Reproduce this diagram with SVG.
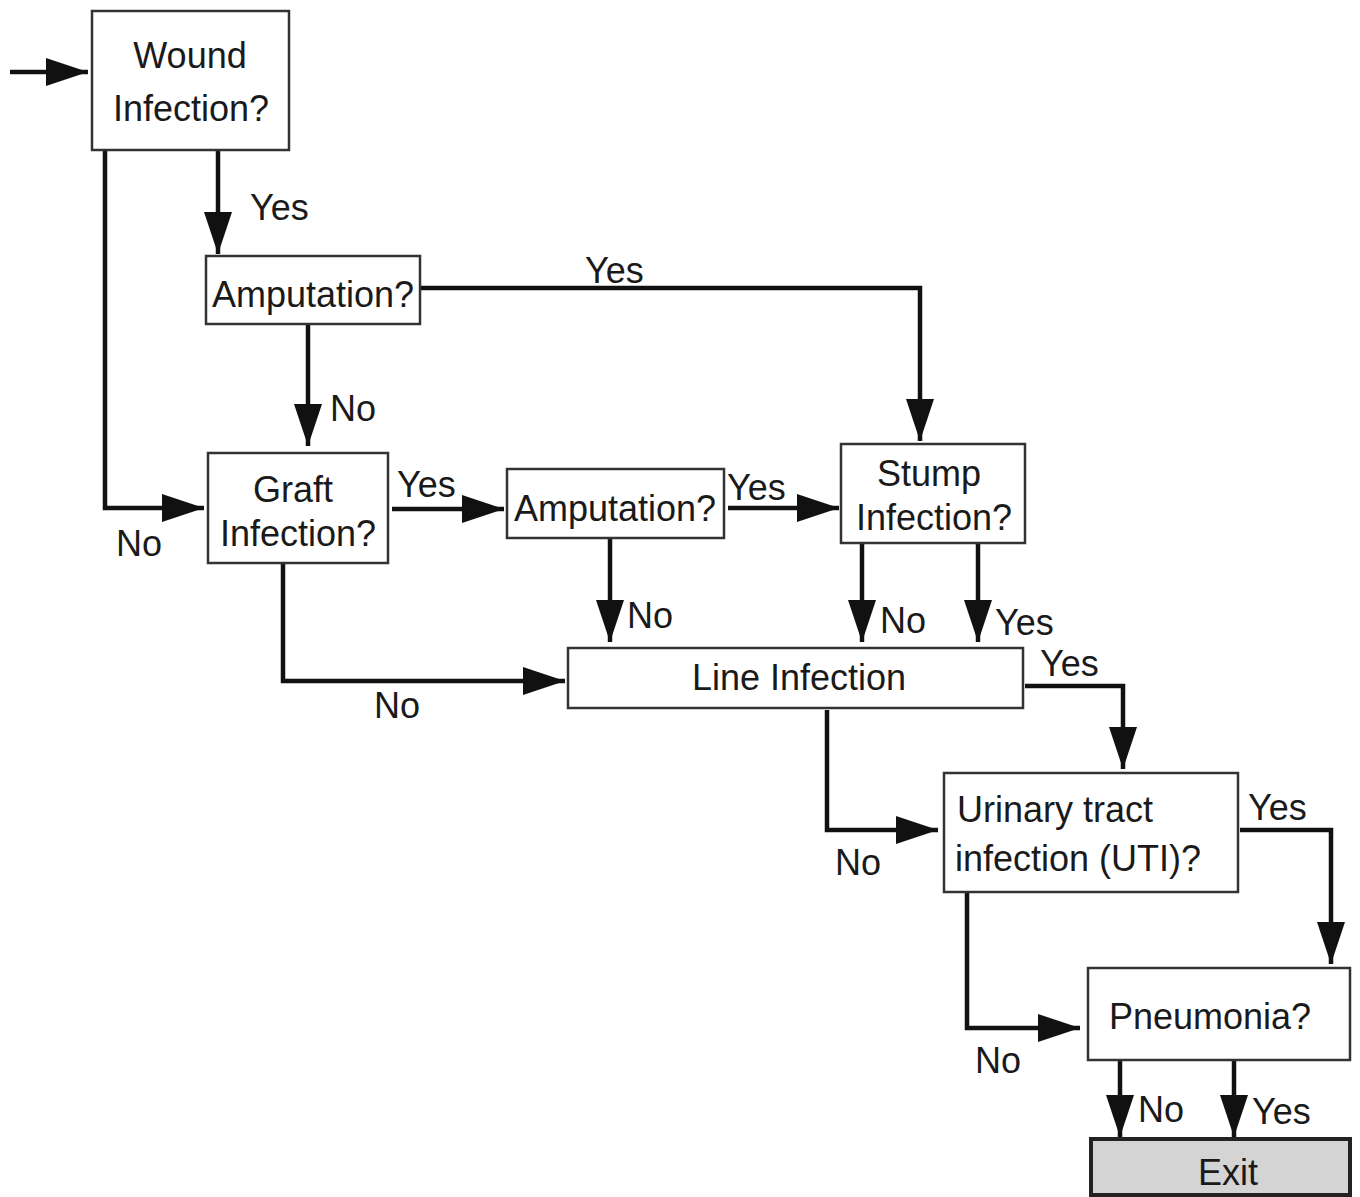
<svg xmlns="http://www.w3.org/2000/svg" width="1360" height="1197" viewBox="0 0 1360 1197">
<style>
.box{fill:#fff;stroke:#333;stroke-width:2.5}
.exit{fill:#d4d4d4;stroke:#222;stroke-width:4}
text{font-family:"Liberation Sans",Arial,sans-serif;font-size:36px;fill:#1a1a1a}
.c{text-anchor:middle}
.ln{fill:none;stroke:#111;stroke-width:4.5;marker-end:url(#ah)}
</style>
<defs>
<marker id="ah" markerUnits="userSpaceOnUse" markerWidth="44" markerHeight="30" refX="42" refY="14" orient="auto">
<path d="M0,0 L42,14 L0,28 Z" fill="#111"/>
</marker>
</defs>
<rect width="1360" height="1197" fill="#fff"/>
<g id="connectors">
<path class="ln" d="M10,72 H88"/>
<path class="ln" d="M218,150 V254"/>
<path class="ln" d="M105,150 V508 H204"/>
<path class="ln" d="M420,288 H920 V441"/>
<path class="ln" d="M308,324 V446"/>
<path class="ln" d="M392,509 H504"/>
<path class="ln" d="M728,508 H839"/>
<path class="ln" d="M610,538 V642"/>
<path class="ln" d="M862,543 V642"/>
<path class="ln" d="M978,543 V642"/>
<path class="ln" d="M283,563 V681 H565"/>
<path class="ln" d="M1025,686 H1123 V769"/>
<path class="ln" d="M827,710 V830 H938"/>
<path class="ln" d="M1240,830 H1331 V964"/>
<path class="ln" d="M967,892 V1028 H1080"/>
<path class="ln" d="M1120,1060 V1137"/>
<path class="ln" d="M1234,1060 V1137"/>
<text x="250" y="220">Yes</text>
<text x="116" y="556">No</text>
<text x="585" y="283">Yes</text>
<text x="330" y="421">No</text>
<text x="397" y="497">Yes</text>
<text x="727" y="500">Yes</text>
<text x="627" y="628">No</text>
<text x="880" y="633">No</text>
<text x="995" y="635">Yes</text>
<text x="374" y="718">No</text>
<text x="1040" y="676">Yes</text>
<text x="835" y="875">No</text>
<text x="1248" y="820">Yes</text>
<text x="975" y="1073">No</text>
<text x="1138" y="1122">No</text>
<text x="1252" y="1124">Yes</text>
</g>
<g id="wound">
<rect class="box" x="92" y="11" width="197" height="139"/>
<text class="c" x="190" y="68">Wound</text>
<text class="c" x="191" y="121">Infection?</text>
</g>
<g id="amputation1">
<rect class="box" x="206" y="256" width="214" height="68"/>
<text class="c" x="313" y="307">Amputation?</text>
</g>
<g id="graft">
<rect class="box" x="208" y="453" width="180" height="110"/>
<text class="c" x="293" y="502">Graft</text>
<text class="c" x="298" y="546">Infection?</text>
</g>
<g id="amputation2">
<rect class="box" x="507" y="469" width="217" height="69"/>
<text class="c" x="615" y="521">Amputation?</text>
</g>
<g id="stump">
<rect class="box" x="841" y="444" width="184" height="99"/>
<text class="c" x="929" y="486">Stump</text>
<text class="c" x="934" y="530">Infection?</text>
</g>
<g id="line-infection">
<rect class="box" x="568" y="648" width="455" height="60"/>
<text class="c" x="799" y="690">Line Infection</text>
</g>
<g id="uti">
<rect class="box" x="944" y="773" width="294" height="119"/>
<text x="957" y="822">Urinary tract</text>
<text x="955" y="871">infection (UTI)?</text>
</g>
<g id="pneumonia">
<rect class="box" x="1088" y="968" width="262" height="92"/>
<text class="c" x="1210" y="1029">Pneumonia?</text>
</g>
<g id="exit">
<rect class="exit" x="1091" y="1139" width="259" height="56"/>
<text class="c" x="1228" y="1185">Exit</text>
</g>
</svg>
